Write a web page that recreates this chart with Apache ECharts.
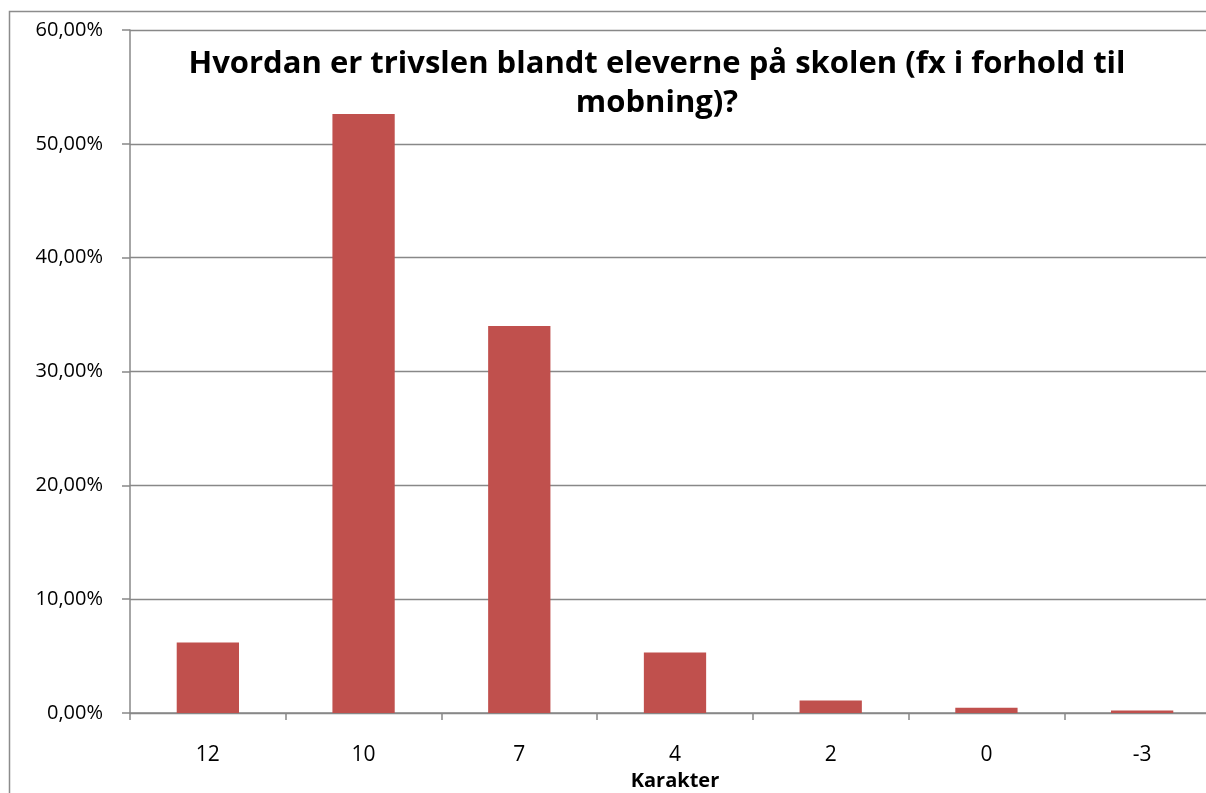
<!DOCTYPE html>
<html>
<head>
<meta charset="utf-8">
<script src="https://cdn.jsdelivr.net/npm/echarts@6/dist/echarts.min.js"></script>
<style>html,body{margin:0;padding:0;background:#fff;overflow:hidden}#c{width:1206px;height:793px}</style>
</head>
<body>
<div id="c"></div>
<script>
const categories = ['12', '10', '7', '4', '2', '0', '-3'];
const values = [6.19, 52.62, 33.99, 5.31, 1.09, 0.47, 0.21];
const titleText = 'Hvordan er trivslen blandt eleverne på skolen (fx i forhold til\nmobning)?';
const xName = 'Karakter';

const chart = echarts.init(document.getElementById('c'), null, {renderer: 'canvas'});
const font = 'Open Sans';
chart.setOption({
  animation: false,
  backgroundColor: '#fff',
  graphic: [{
    type: 'rect', silent: true,
    shape: {x: 9.5, y: 11.5, width: 1300, height: 900},
    style: {fill: 'none', stroke: '#8c8c8c', lineWidth: 1.5}
  }],
  title: {
    text: titleText,
    left: 652, top: 40, textAlign: 'center',
    textStyle: {fontFamily: font, fontWeight: 'bold', fontSize: 31, lineHeight: 39, color: '#000'}
  },
  grid: {left: 130, top: 30, width: 1090, height: 683, containLabel: false, outerBoundsMode: 'none'},
  xAxis: {
    type: 'category', data: categories,
    name: xName, nameLocation: 'middle', nameGap: 57,
    nameTextStyle: {fontFamily: font, fontWeight: 'bold', fontSize: 20, color: '#000'},
    axisLine: {lineStyle: {color: '#888', width: 1.5}},
    axisTick: {show: true, length: 7, lineStyle: {color: '#888', width: 1.5}},
    axisLabel: {fontFamily: font, fontSize: 21, color: '#000', margin: 32}
  },
  yAxis: {
    type: 'value', min: 0, max: 60, interval: 10,
    axisLine: {show: true, lineStyle: {color: '#888', width: 1.5}},
    axisTick: {show: true, length: 8, lineStyle: {color: '#888', width: 1.5}},
    splitLine: {lineStyle: {color: '#888', width: 1.3}},
    axisLabel: {fontFamily: font, fontSize: 20, color: '#000', margin: 27,
      formatter: v => v.toFixed(2).replace('.', ',') + '%'}
  },
  series: [{
    type: 'bar', data: values, barWidth: '40%',
    itemStyle: {color: '#C0504D'}
  }]
});
</script>
</body>
</html>
